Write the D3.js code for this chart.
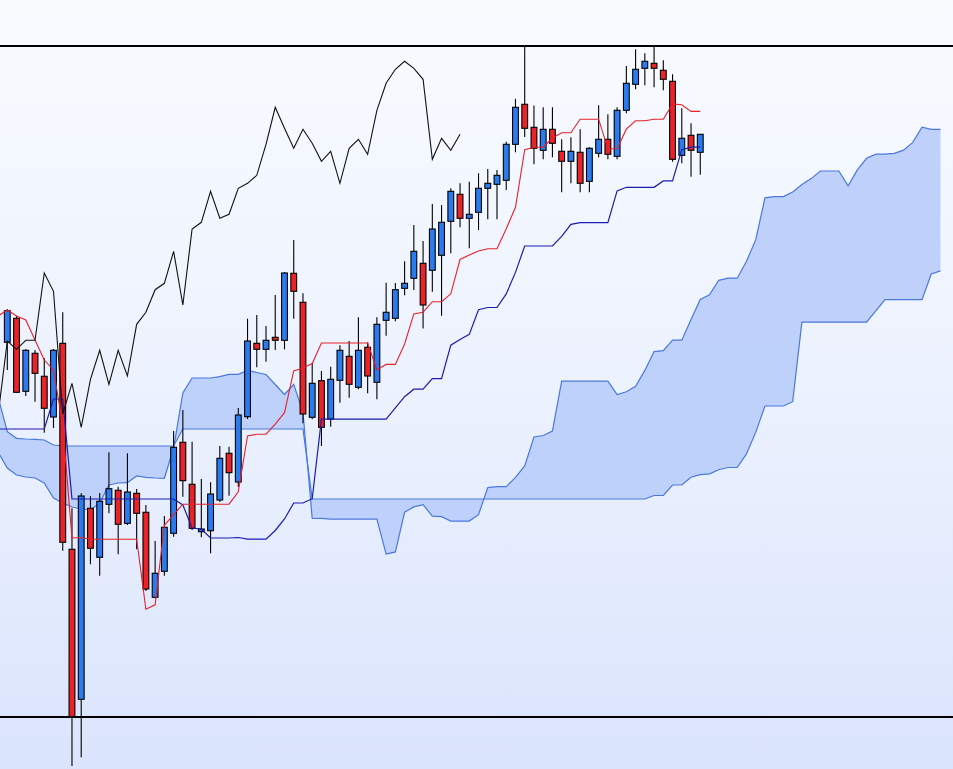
<!DOCTYPE html>
<html>
<head>
<meta charset="utf-8">
<script src="https://cdn.jsdelivr.net/npm/d3@7"></script>
<style>
html,body{margin:0;padding:0;overflow:hidden;background:#f8faff;}
svg{display:block;}
</style>
</head>
<body>
<svg id="chart" width="953" height="769"></svg>
<script>
// ---- Candles (periods 0..75) ----
const opens = [374.7,398.7,325.7,363.7,340.7,300,373.7,167.7,17.7,208.7,
159.7,212.7,226.7,193.7,223.7,204.7,119.7,145.7,183.7,274.7,
232.7,185.3,186.3,217,263.7,235,300.3,373.7,367.7,379.7,
376.7,443.7,414.7,299.7,336.3,298,336.7,360.7,329.7,369.7,
334.7,396.7,398.7,428.7,438.7,453.7,446.7,461.7,495.7,522.7,
498.7,504.7,528.7,532.7,536.7,572.7,612.7,589.7,566.7,587.7,
565.7,555.7,564.7,535.7,563.7,577.7,560.7,606.7,632.7,648.7,
653.7,646.7,635.7,561.7,581.7,564.7];
const closes = [406.3,324.7,366.7,343.7,308.7,366.7,174.7,0.3,221,168.7,
215.7,228.3,192.7,225,203.7,128,143.7,189.7,269.7,236.3,
188.7,188,223,258.7,244.3,302,376,367.7,376.7,376.7,
444,425.7,303,333.7,289.7,337.7,366.7,332.7,366.7,341,
392.7,404.7,427.3,433.7,465.7,412,488,494.7,525.7,498.7,
502.7,528.7,533.7,541.7,572.7,609.7,588.7,568.7,587.7,573.7,
555.7,565.7,533.7,568.7,577.7,562.7,606.7,633.7,647.7,655.7,
648.7,637.7,557.7,578.7,566.7,582.7];
const highs = [408,401,368,367,359,368,404.7,208.7,223.7,221,
224,264.7,230.3,263.7,228,212,176,201,286,307,
275.3,238,234.7,271,270.3,309,398.3,402,391,422,
445,477,423.7,354.3,346,350.3,371.7,376,399.7,374.7,
399.7,434.3,434,455.7,492,476,513,512,528.7,533.7,
535.3,543.7,548,547,575.3,618.2,671,611.5,609.7,609.7,
577.7,579.7,587.7,569.7,611.7,602.7,609.7,651,667.7,663.7,
671,656.7,642.7,608.7,593.7,582.7];
const lows = [347,324,321,315.3,284.3,289,166.3,-49,-40.3,152.7,
141.3,203.7,162.7,192,167.7,126,118.7,141.3,180.3,220.3,
187,179.7,163.7,215,221.3,230,298,349.7,355.3,367,
367.7,398.3,293.7,297.7,271,290.3,314.3,319.3,327.7,323.7,
317.7,381.3,395.7,421.7,427,388.5,425.3,401.3,463.7,489.7,
468.7,487,497.7,497.7,527,564.7,580,552.7,557.7,559.7,
524.7,533.7,524.7,524.7,559.7,557.7,557.7,603.7,627.7,631.7,
629.7,626.7,555.3,553.7,540.3,542.3];

// ---- Ichimoku lines ----
// tenkan / kijun: periods -1..75
const tenkanStart = -1;
const tenkan = [401,407,401,397,377,357,347,292,179,179.5,
177.8,177.8,177.8,177.8,177.8,177.8,107.8,112.2,191.7,202.3,
212.8,212.8,212.8,212.8,212.8,212.8,225.1,281,282.8,282.8,
292.8,304.3,346,349.1,353.5,374,374,374,374,374,
374,347.3,352.6,352.6,373,403.1,404.8,415.3,415.3,423.2,
457.5,461.9,466.1,468.2,468.2,488.3,509.7,567.3,569.8,569.8,
579,584.3,584.3,597.8,597.8,597.8,568.2,568.2,587.8,596.2,
596.2,597.8,597.8,613.1,612.3,605.6,605.6];
const kijunStart = -1;
const kijun = [288,288,288,288,288,288,318,318,218,218,
218,218,218,218,218,218,218,218,218,218,
212,189,188,179,179,179,179.5,177.8,177.8,177.8,
186.5,198,214,214,218.3,297.8,297.8,297.8,297.8,297.8,
297.8,297.8,297.8,309.1,320.3,327.8,327.8,338.3,338.3,371.8,
377.5,382.6,407.3,409.5,409.5,423.1,444.6,471,471,471,
471,480.6,492.6,494.3,494.3,494.3,494.3,526.1,529.7,529.7,
529.7,529.7,536.1,536.1,567.3,569.8,569.8];
// senkou spans: periods -1..101 (shifted 26 forward)
const spanStart = -1;
const spanA = [265,249,242,240,239,234,219,214,210,208,
207,214,232,234,234.3,241,239.7,239,238.7,269,
324,339,339,339,340.3,342.7,342.7,346.5,344.5,342.5,
332.5,322.5,332.5,305,198.5,198.7,197.9,197.9,197.9,197.9,
197.9,197.9,162.9,165.1,204.8,210.1,212.4,200.9,200.4,195.9,
195.9,195.9,202.3,229.4,230.3,230.3,239.6,251.1,280,281.5,
285.9,335.9,335.9,335.9,335.9,335.9,335.9,322.5,325.2,330.8,
346.6,365.4,366.3,376.8,376.8,397.5,417.5,422.2,436.7,438.8,
438.8,455.7,477.1,519.1,520.4,520.4,525,532.4,538.4,546,
546,546,531.2,547.1,558.7,562.9,562.9,563.7,566.9,574.6,
589.8,587.7,587.7];
const spanB = [320,285.3,278.7,278,277.7,277,272,271,271,271,
271,271,271,271,271,271,271,271,271,271,
288,288,288,288,288,288,288,288,288,288,
288,288,288,288,218,218,218,218,218,218,
218,218,218,218,218,218,218,218,218,218,
218,218,218,218,218,218,218,218,218,218,
218,218,218,218,218,218,218,218,218,218,
218,221.5,221.5,232,232,239.8,242.3,243.1,247.3,249.5,
249.5,263.1,284.6,311,311,311,315.3,394.8,394.8,394.8,
394.8,394.8,394.8,394.8,394.8,406.1,417.3,417.3,417.3,417.3,
417.3,443,446.1];
// chikou: periods -1..49 (shifted 26 back)
const chikouStart = -1;
const chikou = [302,376,367.7,376.7,376.7,444,425.7,303,333.7,289.7,
337.7,366.7,332.7,366.7,341,392.7,404.7,427.3,433.7,465.7,
412,488,494.7,525.7,498.7,502.7,528.7,533.7,541.7,572.7,
609.7,588.7,568.7,587.7,573.7,555.7,565.7,533.7,568.7,577.7,
562.7,606.7,633.7,647.7,655.7,648.7,637.7,557.7,578.7,566.7,
582.7];

// ---- drawing ----
const W = 953, H = 769;
const svg = d3.select('#chart');
const x = d3.scaleLinear().domain([0, 101]).range([7.3, 940.5]);
const y = d3.scaleLinear().domain([0, 671]).range([717, 46]);

const defs = svg.append('defs');
const grad = defs.append('linearGradient').attr('id','bg').attr('x1',0).attr('y1',0).attr('x2',0).attr('y2',1);
grad.append('stop').attr('offset','0%').attr('stop-color','#f9fbff');
grad.append('stop').attr('offset','50%').attr('stop-color','#ecf2fe');
grad.append('stop').attr('offset','100%').attr('stop-color','#dae4fc');
svg.append('rect').attr('width',W).attr('height',H).attr('fill','url(#bg)');

const toPts = (arr, start) => arr.map((v,i)=>({p:i+start, v}));

// cloud
const cloud = spanA.map((a,i)=>({p:i+spanStart, a, b:spanB[i]}));
svg.append('path').datum(cloud)
  .attr('fill','#bccffb').attr('fill-opacity',0.95)
  .attr('d', d3.area().x(d=>x(d.p)).y0(d=>y(d.b)).y1(d=>y(d.a)));
const line = d3.line().x(d=>x(d.p)).y(d=>y(d.v));
svg.append('path').datum(toPts(spanA, spanStart)).attr('fill','none')
  .attr('stroke','#4a78dc').attr('stroke-width',1.2).attr('d', line);
svg.append('path').datum(toPts(spanB, spanStart)).attr('fill','none')
  .attr('stroke','#4a78dc').attr('stroke-width',1.2).attr('d', line);

// candles
const candles = opens.map((o,i)=>({p:i, o, c:closes[i], h:highs[i], l:lows[i]}));
const cg = svg.append('g');
cg.selectAll('line.wick').data(candles).join('line')
  .attr('class','wick')
  .attr('x1',d=>x(d.p)).attr('x2',d=>x(d.p))
  .attr('y1',d=>y(d.h)).attr('y2',d=>y(d.l))
  .attr('stroke','#000').attr('stroke-width',1.1);
const bw = 5.8;
cg.selectAll('rect.body').data(candles).join('rect')
  .attr('class','body')
  .attr('x',d=>x(d.p)-bw/2).attr('width',bw)
  .attr('y',d=>y(Math.max(d.o,d.c)))
  .attr('height',d=>Math.max(1.5, Math.abs(y(d.o)-y(d.c))))
  .attr('fill',d=>d.c>=d.o ? '#2b7bf0' : '#ea2328')
  .attr('stroke','#000').attr('stroke-width',1.1);

// kijun, tenkan, chikou
svg.append('path').datum(toPts(kijun, kijunStart)).attr('fill','none')
  .attr('stroke','#1c1cb0').attr('stroke-width',1.2).attr('d', line);
svg.append('path').datum(toPts(tenkan, tenkanStart)).attr('fill','none')
  .attr('stroke','#e8202a').attr('stroke-width',1.1).attr('d', line);
svg.append('path').datum(toPts(chikou, chikouStart)).attr('fill','none')
  .attr('stroke','#111').attr('stroke-width',1.1).attr('d', line);

// frame lines
[671, 0].forEach(v=>{
  svg.append('line').attr('x1',0).attr('x2',W)
    .attr('y1',y(v)).attr('y2',y(v))
    .attr('stroke','#000').attr('stroke-width',2);
});
</script>
</body>
</html>
